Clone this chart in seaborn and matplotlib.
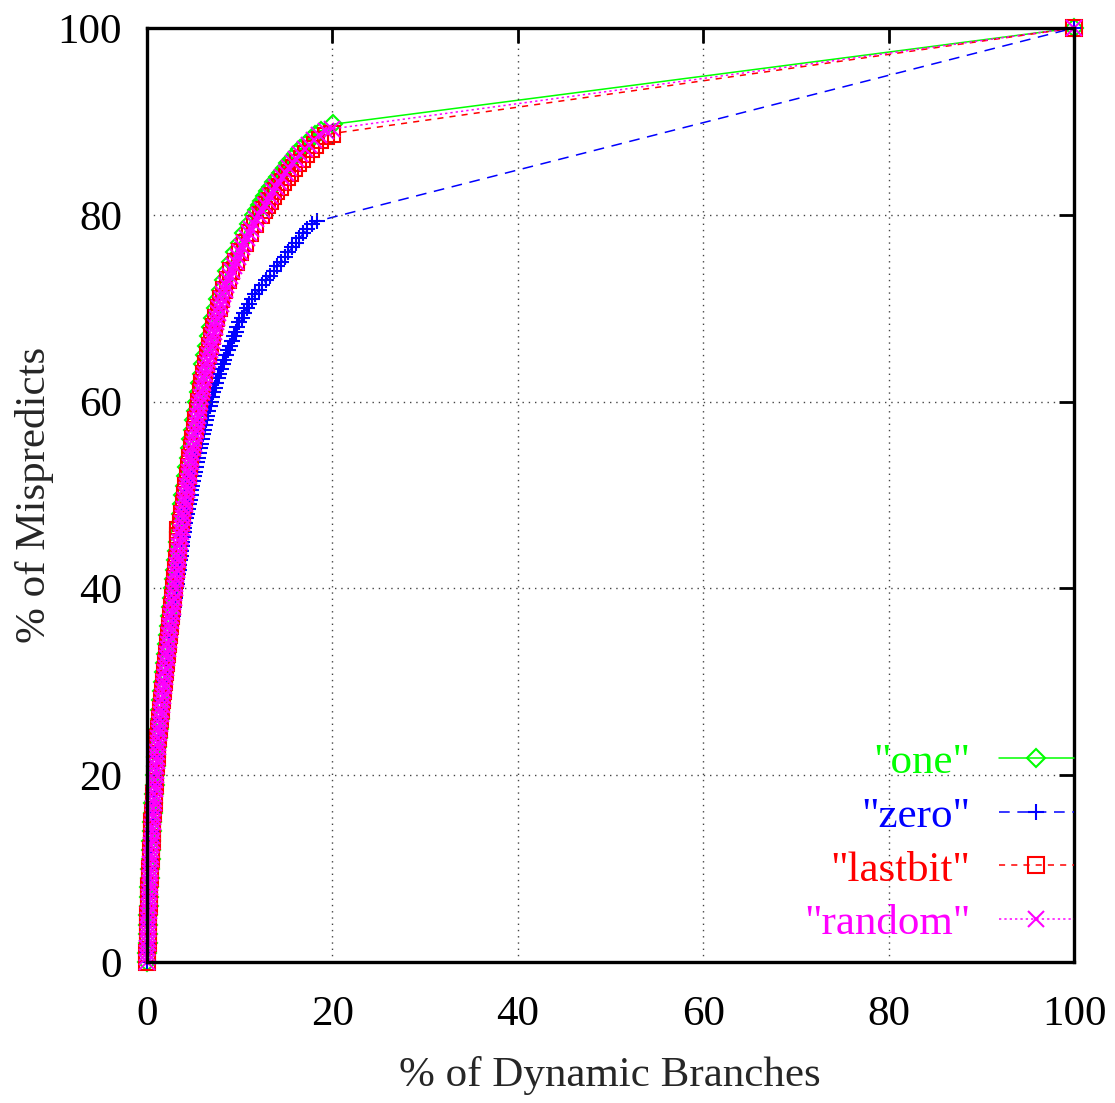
import matplotlib
matplotlib.use("Agg")
import matplotlib.pyplot as plt
import seaborn as sns

# ---------------- data ----------------
one_y = [0, 1, 2, 3, 4, 5, 6, 7, 8, 9, 10, 11, 12, 13, 14, 15, 16, 17, 18, 19, 20,
         21, 22, 23, 24, 25, 26, 27, 28, 29, 30, 31, 32, 33, 34, 35, 36, 37, 38, 39, 40,
         41, 42, 43, 44, 45, 46, 47, 48, 49, 50, 51, 52, 53, 54, 55, 56, 57, 58, 59, 60,
         61, 62, 63, 64, 65, 66, 67, 68, 69, 70, 71, 72, 73, 74, 75, 76, 77, 78, 79, 80,
         80.5, 81, 81.5, 82, 82.5, 83, 83.5, 84, 84.5, 85, 85.5, 86, 86.5, 87, 87.5,
         88, 88.5, 89, 89.7, 100]
one_x = [0, 0.03, 0.06, 0.09, 0.12, 0.15, 0.18, 0.22, 0.26, 0.30, 0.34, 0.38, 0.43, 0.48,
         0.53, 0.58, 0.63, 0.69, 0.75, 0.82, 0.89, 0.95, 1.02, 1.10, 1.18, 1.26, 1.35, 1.44,
         1.53, 1.63, 1.74, 1.84, 1.94, 2.04, 2.14, 2.25, 2.36, 2.47, 2.58, 2.69, 2.80, 2.90,
         3.00, 3.11, 3.22, 3.33, 3.44, 3.56, 3.68, 3.80, 3.93, 4.07, 4.21, 4.35, 4.49, 4.63,
         4.78, 4.93, 5.08, 5.24, 5.40, 5.56, 5.73, 5.91, 6.09, 6.28, 6.48, 6.69, 6.91, 7.14,
         7.39, 7.66, 7.95, 8.28, 8.66, 9.08, 9.52, 9.98, 10.47, 10.98, 11.55,
         11.85, 12.15, 12.45, 12.75, 13.05, 13.40, 13.75, 14.10, 14.45, 14.85, 15.25, 15.65,
         16.10, 16.55, 17.05, 17.55, 18.15, 18.80, 20.10, 100]

zero_y = [0, 1, 2, 3, 4, 5, 6, 7, 8, 9, 10, 11, 12, 13, 14, 15, 16, 17, 18, 19, 20,
          21, 22, 23, 24, 25, 26, 27, 28, 29, 30, 31, 32, 33, 34, 35, 36, 37, 38, 39, 40,
          40.5, 41, 41.5, 42, 42.5, 43, 43.5, 44, 44.5, 45, 45.5, 46, 46.5, 47, 47.5, 48,
          48.5, 49, 49.5, 50, 50.5, 51, 51.5, 52, 52.5, 53, 53.5, 54, 54.5, 55, 55.5, 56,
          56.5, 57, 57.5, 58, 58.5, 59, 59.5, 60, 60.5, 61, 61.5, 62, 62.5, 63, 63.5, 64,
          64.5, 65, 65.5, 66, 66.5, 67, 67.5, 68, 68.5, 69, 69.5, 70, 70.5, 71, 71.5, 72,
          72.5, 73, 73.5, 74, 74.5, 75, 75.5, 76, 76.5, 77, 77.5, 78, 78.5, 79, 79.3, 100]
zero_x = [0, 0.03, 0.06, 0.10, 0.13, 0.17, 0.20, 0.24, 0.28, 0.32, 0.37, 0.42, 0.47, 0.52,
          0.58, 0.64, 0.70, 0.76, 0.83, 0.90, 0.97, 1.05, 1.13, 1.21, 1.30, 1.39, 1.49, 1.59,
          1.69, 1.80, 1.92, 2.03, 2.15, 2.27, 2.39, 2.51, 2.64, 2.77, 2.90, 3.03, 3.16,
          3.225, 3.29, 3.355, 3.42, 3.485, 3.55, 3.615, 3.68, 3.75, 3.82, 3.89, 3.96, 4.04,
          4.12, 4.21, 4.30, 4.40, 4.50, 4.60, 4.70, 4.80, 4.90, 5.00, 5.10, 5.20, 5.30, 5.40,
          5.50, 5.60, 5.70, 5.81, 5.92, 6.03, 6.14, 6.26, 6.38, 6.50, 6.62, 6.75, 6.88, 7.02,
          7.16, 7.31, 7.46, 7.63, 7.80, 7.98, 8.16, 8.35, 8.55, 8.75, 8.95, 9.15, 9.35, 9.55,
          9.75, 9.97, 10.20, 10.45, 10.75, 11.05, 11.35, 11.70, 12.05, 12.45, 12.85, 13.25,
          13.65, 14.05, 14.45, 14.85, 15.25, 15.65, 16.05, 16.45, 16.85, 17.30, 17.80, 18.30,
          100]

lastbit_y = [0, 1, 2, 3, 4, 5, 6, 7, 8, 9, 10, 11, 12, 13, 14, 15, 16, 17, 18, 19, 20,
             21, 22, 23, 24, 25, 26, 27, 28, 29, 30, 31, 32, 33, 34, 35, 36, 37, 38, 39, 40,
             41, 42, 43, 44, 45, 45.6, 46.2, 47, 48, 49, 50, 51, 52, 53, 54, 55, 56, 57, 58,
             59, 60, 61, 62, 63, 64, 65, 66, 67, 68, 69, 70, 71, 72, 73, 74, 75, 76, 77, 78,
             79, 80, 80.5, 81, 81.5, 82, 82.5, 83, 83.5, 84, 84.5, 85, 85.5, 86, 86.5, 87,
             87.5, 88, 88.4, 88.7, 100]
lastbit_x = [0, 0.03, 0.06, 0.09, 0.12, 0.15, 0.19, 0.22, 0.26, 0.30, 0.34, 0.39, 0.44, 0.49,
             0.54, 0.59, 0.65, 0.71, 0.77, 0.84, 0.91, 0.98, 1.05, 1.13, 1.21, 1.30, 1.39,
             1.48, 1.58, 1.68, 1.79, 1.90, 2.00, 2.11, 2.22, 2.33, 2.44, 2.56, 2.68, 2.80,
             2.92, 3.02, 3.12, 3.23, 3.36, 3.30, 3.32, 3.34, 3.70, 3.82, 3.95, 4.09, 4.23,
             4.37, 4.52, 4.67, 4.82, 4.97, 5.13, 5.29, 5.45, 5.61, 5.78, 5.96, 6.15, 6.34,
             6.54, 6.75, 6.97, 7.20, 7.45, 7.72, 8.01, 8.33, 8.69, 9.10, 9.56, 10.05, 10.56,
             11.10, 11.65, 12.25, 12.58, 12.92, 13.26, 13.60, 13.95, 14.30, 14.68, 15.05,
             15.45, 15.85, 16.28, 16.72, 17.18, 17.65, 18.15, 18.70, 19.30, 20.00, 100]

random_y = [0, 0.5, 1, 1.5, 2, 2.5, 3, 3.5, 4, 4.5, 5, 5.5, 6, 6.5, 7, 7.5, 8, 8.5, 9, 9.5,
            10, 10.5, 11, 11.5, 12, 12.5, 13, 13.5, 14, 14.5, 15, 15.5, 16, 16.5, 17, 17.5,
            18, 18.5, 19, 19.5, 20, 20.5, 21, 21.5, 22, 22.5, 23, 23.5, 24, 24.5, 25, 25.5,
            26, 26.5, 27, 27.5, 28, 28.5, 29, 29.5, 30, 30.5, 31, 31.5, 32, 32.5, 33, 33.5,
            34, 34.5, 35, 35.5, 36, 36.5, 37, 37.5, 38, 38.5, 39, 39.5, 40, 40.5, 41, 41.5,
            42, 42.5, 43, 43.5, 44, 44.5, 45, 45.5, 46, 46.5, 47, 47.5, 48, 48.5, 49, 49.5,
            50, 50.5, 51, 51.5, 52, 52.5, 53, 53.5, 54, 54.5, 55, 55.5, 56, 56.5, 57, 57.5,
            58, 58.5, 59, 59.5, 60, 60.5, 61, 61.5, 62, 62.5, 63, 63.5, 64, 64.5, 65, 65.5,
            66, 66.5, 67, 67.5, 68, 68.5, 69, 69.5, 70, 70.5, 71, 71.5, 72, 72.5, 73, 73.5,
            74, 74.5, 75, 75.5, 76, 76.5, 77, 77.5, 78, 78.5, 79, 79.5, 80,
            80.5, 81, 81.5, 82, 82.5, 83, 83.5, 84, 84.5, 85, 85.5, 86, 86.5, 87, 87.5,
            88, 88.5, 89, 89.2, 100]
random_x = [0, 0.015, 0.03, 0.045, 0.06, 0.075, 0.09, 0.105, 0.12, 0.14, 0.16, 0.175, 0.19,
            0.21, 0.23, 0.25, 0.27, 0.29, 0.31, 0.33, 0.35, 0.375, 0.40, 0.425, 0.45, 0.475,
            0.50, 0.525, 0.55, 0.575, 0.60, 0.63, 0.66, 0.69, 0.72, 0.755, 0.79, 0.825, 0.86,
            0.895, 0.93, 0.965, 1.00, 1.04, 1.08, 1.12, 1.16, 1.20, 1.24, 1.285, 1.33, 1.375,
            1.42, 1.47, 1.52, 1.57, 1.62, 1.675, 1.73, 1.79, 1.85, 1.905, 1.96, 2.015, 2.07,
            2.125, 2.18, 2.235, 2.29, 2.345, 2.40, 2.46, 2.52, 2.58, 2.64, 2.70, 2.76, 2.82,
            2.88, 2.94, 3.00, 3.05, 3.10, 3.15, 3.20, 3.26, 3.32, 3.38, 3.44, 3.50, 3.56, 3.62,
            3.68, 3.74, 3.80, 3.865, 3.93, 3.995, 4.06, 4.13, 4.20, 4.275, 4.35, 4.425, 4.50,
            4.575, 4.65, 4.725, 4.80, 4.875, 4.95, 5.025, 5.10, 5.18, 5.26, 5.34, 5.42, 5.50,
            5.58, 5.66, 5.74, 5.82, 5.90, 5.99, 6.08, 6.175, 6.27, 6.365, 6.46, 6.56, 6.66,
            6.765, 6.87, 6.98, 7.09, 7.205, 7.32, 7.44, 7.56, 7.69, 7.82, 7.96, 8.10, 8.25,
            8.40, 8.575, 8.75, 8.95, 9.15, 9.375, 9.60, 9.825, 10.05, 10.275, 10.50, 10.75,
            11.00, 11.25, 11.50, 11.80, 12.10,
            12.40, 12.70, 13.00, 13.30, 13.60, 13.90, 14.25, 14.60, 14.95, 15.30, 15.70,
            16.10, 16.55, 17.00, 17.50, 18.00, 18.60, 19.30, 20.00, 100]

series_labels = ['"one"', '"zero"', '"lastbit"', '"random"']
tick_values = [0, 20, 40, 60, 80, 100]
tick_labels = ["0", "20", "40", "60", "80", "100"]
x_title = "% of Dynamic Branches"
y_title = "% of Mispredicts"

# ---------------- styling ----------------
sns.set_theme(style="white")
plt.rcParams['font.family'] = ['Liberation Serif', 'DejaVu Serif']

FS = 31

fig = plt.figure(figsize=(11.15, 11.03), dpi=100)
ax = fig.add_axes([147 / 1115, 1 - 962 / 1103, (1074 - 147) / 1115, (962 - 28) / 1103])

styles = [
    dict(x=one_x, y=one_y, color="#00ff00", marker="D", ms=9.0, ls="-"),
    dict(x=zero_x, y=zero_y, color="#0000ff", marker="+", ms=12.0, ls=(0, (7, 5))),
    dict(x=lastbit_x, y=lastbit_y, color="#ff0000", marker="s", ms=11.0, ls=(0, (4, 4))),
    dict(x=random_x, y=random_y, color="#ff00ff", marker="x", ms=11.0, ls=(0, (1.5, 2))),
]

for st, lab in zip(styles, series_labels):
    sns.lineplot(x=st["x"], y=st["y"], sort=False, estimator=None, ax=ax,
                 color=st["color"], marker=st["marker"], markersize=st["ms"],
                 markerfacecolor="none", markeredgecolor=st["color"],
                 markeredgewidth=1.5, linewidth=1.1, linestyle=st["ls"],
                 label=lab, clip_on=False)

ax.set_xlim(0, 100)
ax.set_ylim(0, 100)
ax.set_xticks(tick_values)
ax.set_xticklabels(tick_labels)
ax.set_yticks(tick_values)
ax.set_yticklabels(tick_labels)
ax.tick_params(axis="both", direction="in", length=11, width=2, top=True, right=True,
               labelsize=FS, colors="black")
ax.tick_params(axis="x", pad=24)
ax.tick_params(axis="y", pad=18)
ax.grid(True, linestyle=(0, (1, 3.5)), color="#444444", linewidth=1.0)
ax.set_axisbelow(False)
for sp in ax.spines.values():
    sp.set_linewidth(2.4)
    sp.set_color("black")
    sp.set_zorder(5)

ax.set_xlabel(x_title, fontsize=FS, va="center")
ax.set_ylabel(y_title, fontsize=FS, va="center")
ax.xaxis.set_label_coords(0.4995, -0.121)
ax.yaxis.set_label_coords(-0.121, 0.5)

leg = ax.legend(loc="lower right", bbox_to_anchor=(1.0, 0.02), markerfirst=False,
                frameon=False, labelcolor="linecolor", handlelength=1.75,
                handletextpad=0.65, borderpad=0, borderaxespad=0, labelspacing=0.34,
                fontsize=FS, numpoints=1)

fig.savefig("out.png", dpi=100)
